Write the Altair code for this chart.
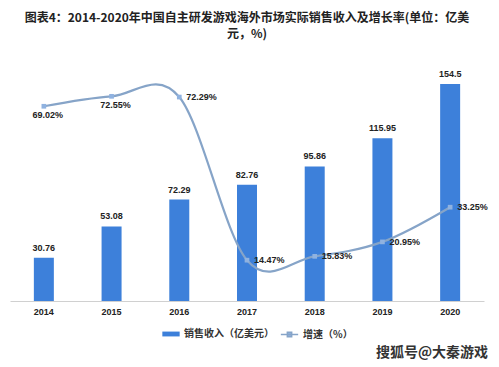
import altair as alt
import pandas as pd

years = ["2014", "2015", "2016", "2017", "2018", "2019", "2020"]
revenue = [30.76, 53.08, 72.29, 82.76, 95.86, 115.95, 154.5]
growth = [69.02, 72.55, 72.29, 14.47, 15.83, 20.95, 33.25]
bar_name = "销售收入（亿美元）"
line_name = "增速（%）"
title_lines = ["图表4：2014-2020年中国自主研发游戏海外市场实际销售收入及增长率(单位：亿美", "元，%)"]
watermark = "搜狐号@大秦游戏"

df = pd.DataFrame({"year": years, "rev": revenue, "g": growth})
df["bs"] = bar_name
df["ls"] = line_name
df["glabel"] = [f"{v:.2f}%" for v in growth]
df["below"] = [1, 1, 0, 0, 0, 0, 0]

BAR = "#3d80da"
LINE = "#86a4c8"
PT = "#8fb2e0"
FONT = "Noto Sans CJK SC"
NUMF = "Liberation Sans"

base = alt.Chart(df)
x = alt.X("year:N", title=None, sort=years,
          scale=alt.Scale(paddingInner=0, paddingOuter=0),
          axis=alt.Axis(labelAngle=0, ticks=False, domainColor="#d0d0d0",
                        labelFont=NUMF, labelFontWeight="bold", labelFontSize=9,
                        labelColor="#222", labelPadding=6, grid=False))

yb = alt.Y("rev:Q", scale=alt.Scale(domain=[0, 184.5]), axis=None)
yl = alt.Y("g:Q", scale=alt.Scale(domain=[0, 91.8]), axis=None)

bars = base.mark_bar(size=20).encode(
    x=x, y=yb,
    color=alt.Color("bs:N", scale=alt.Scale(domain=[bar_name], range=[BAR]),
                    legend=alt.Legend(title=None, orient="none", legendX=152, legendY=283,
                                      symbolType="M-1,-0.28H1V0.28H-1Z", symbolSize=300,
                                      labelFont=FONT, labelFontSize=10, labelFontWeight="bold",
                                      labelColor="#333", symbolStrokeWidth=0)))
bar_text = base.mark_text(baseline="bottom", dy=-5, font=NUMF, fontSize=9,
                          fontWeight="bold", color="#222").encode(
    x=x, y=yb, text=alt.Text("rev:Q"))

line = base.mark_line(interpolate="cardinal", strokeWidth=2.2).encode(
    x=x, y=yl,
    stroke=alt.Stroke("ls:N", scale=alt.Scale(domain=[line_name], range=[LINE]),
                      legend=alt.Legend(title=None, orient="none", legendX=270, legendY=283,
                                        symbolType="M-1,0H1M-0.25,-0.25H0.25V0.25H-0.25Z",
                                        symbolSize=300, symbolStrokeWidth=1.5,
                                        symbolFillColor=PT,
                                        labelFont=FONT, labelFontSize=10, labelFontWeight="bold",
                                        labelColor="#333")))
pts = base.mark_point(shape="square", filled=True, size=22, color=PT, opacity=1).encode(x=x, y=yl)

lab_below = base.transform_filter("datum.below == 1").mark_text(
    baseline="top", dy=5, dx=4, font=NUMF, fontSize=9, fontWeight="bold", color="#222").encode(
    x=x, y=yl, text="glabel:N")
lab_right = base.transform_filter("datum.below == 0").mark_text(
    align="left", baseline="middle", dx=7, font=NUMF, fontSize=9, fontWeight="bold", color="#222").encode(
    x=x, y=yl, text="glabel:N")

wm = alt.Chart(pd.DataFrame({"t": [watermark]})).mark_text(
    align="right", baseline="middle", font=FONT, fontSize=14, fontWeight="bold", color="#333").encode(
    x=alt.value(478), y=alt.value(311), text="t:N")

chart = alt.layer(
    alt.layer(bars, bar_text),
    alt.layer(line, pts, lab_below, lab_right),
    wm,
).resolve_scale(y="independent", color="independent").properties(
    width=474, height=259,
    padding={"left": 2, "top": 4, "right": 2, "bottom": 2},
    title=alt.TitleParams(title_lines, anchor="middle", font=FONT, fontSize=12,
                          fontWeight="bold", color="#222", lineHeight=16, offset=1),
).configure_view(stroke=None)

chart.save("out.html", embed_options={"renderer": "svg", "actions": False})
